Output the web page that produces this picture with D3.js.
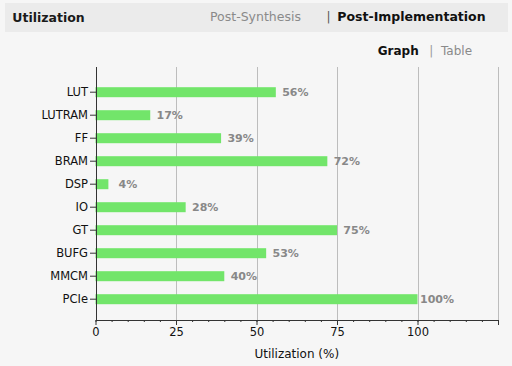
<!DOCTYPE html>
<html>
<head>
<meta charset="utf-8">
<script src="https://cdn.jsdelivr.net/npm/d3@7"></script>
<style>
html,body{margin:0;padding:0;background:#f6f6f6;}
svg{display:block;font-family:"DejaVu Sans",sans-serif;}
</style>
</head>
<body>
<svg id="chart" width="512" height="366"></svg>
<script>
const categories = ["LUT","LUTRAM","FF","BRAM","DSP","IO","GT","BUFG","MMCM","PCIe"];
const utilization = [56,17,39,72,4,28,75,53,40,100];
const xTickValues = [0,25,50,75,100,125];
const xTickLabels = ["0","25","50","75","100",""];
const title = "Utilization";
const tabs = ["Post-Synthesis","Post-Implementation"];
const views = ["Graph","Table"];
const xAxisTitle = "Utilization (%)";

const svg = d3.select("#chart");
svg.append("rect").attr("width",512).attr("height",366).attr("fill","#f6f6f6");

// header band
svg.append("rect").attr("x",5).attr("y",3).attr("width",503).attr("height",29).attr("fill","#ebebeb");
svg.append("text").attr("x",12.3).attr("y",22).attr("font-size","12.5px").attr("font-weight","bold").attr("fill","#1a1a1a").text(title);
svg.append("text").attr("x",210).attr("y",20.5).attr("font-size","12.5px").attr("fill","#8a8a8a").text(tabs[0]);
svg.append("text").attr("x",326.5).attr("y",20.5).attr("font-size","12px").attr("fill","#555").text("|");
svg.append("text").attr("x",337.3).attr("y",20.5).attr("font-size","12.5px").attr("font-weight","bold").attr("fill","#111").text(tabs[1]);

svg.append("text").attr("x",377.7).attr("y",55).attr("font-size","12px").attr("font-weight","bold").attr("fill","#111").text(views[0]);
svg.append("text").attr("x",429.3).attr("y",55).attr("font-size","12px").attr("fill","#999").text("|");
svg.append("text").attr("x",441).attr("y",55).attr("font-size","12px").attr("fill","#8a8a8a").text(views[1]);

// scales
const x = d3.scaleLinear().domain([0,125]).range([95.5,498]);
const y = d3.scaleBand().domain(categories).range([80.7,310.7]).paddingInner(0.565).paddingOuter(0.2826);
const plotTop = 67, plotBottom = 320;

// gridlines
svg.append("g").selectAll("line").data(xTickValues.filter(v=>v>0)).join("line")
  .attr("x1",d=>Math.round(x(d))+0.5).attr("x2",d=>Math.round(x(d))+0.5)
  .attr("y1",plotTop).attr("y2",plotBottom)
  .attr("stroke","#bdbdbd").attr("stroke-width",1);

// bars
svg.append("g").selectAll("rect").data(categories).join("rect")
  .attr("x",x(0)).attr("y",d=>y(d))
  .attr("width",(d,i)=>x(utilization[i])-x(0))
  .attr("height",y.bandwidth())
  .attr("fill","#72e56a");

// bar labels
svg.append("g").selectAll("text").data(categories).join("text")
  .attr("x",(d,i)=>x(utilization[i])+19.5)
  .attr("y",d=>y(d)+y.bandwidth()/2)
  .attr("dy","0.36em")
  .attr("text-anchor","middle")
  .attr("font-size","11px").attr("font-weight","bold").attr("fill","#888")
  .text((d,i)=>utilization[i]+"%");

// y axis
const yAxis = svg.append("g").attr("transform",`translate(${Math.round(x(0))},0)`)
  .call(d3.axisLeft(y).tickSize(6).tickPadding(2).tickSizeOuter(0));
yAxis.select(".domain").remove();
yAxis.selectAll("text").attr("font-size","11.5px").attr("font-family","DejaVu Sans").attr("fill","#111");
yAxis.selectAll("line").attr("stroke","#333");
svg.append("line").attr("x1",Math.round(x(0))+0.5).attr("x2",Math.round(x(0))+0.5)
  .attr("y1",plotTop).attr("y2",plotBottom+1).attr("stroke","#333");

// x axis
const xg = svg.append("g").attr("transform",`translate(0,${plotBottom})`);
xg.call(d3.axisBottom(x).tickValues(d3.range(0,126,5)).tickSize(2).tickFormat("").tickSizeOuter(0));
xg.select(".domain").remove();
const xMaj = svg.append("g").attr("transform",`translate(0,${plotBottom})`)
  .call(d3.axisBottom(x).tickValues(xTickValues).tickSize(5).tickPadding(3)
    .tickFormat((d,i)=>xTickLabels[i]).tickSizeOuter(0));
xMaj.select(".domain").attr("stroke","#333");
xMaj.selectAll("text").attr("font-size","11.5px").attr("font-family","DejaVu Sans").attr("fill","#111");
svg.selectAll(".tick line").attr("stroke","#333");

svg.append("text").attr("x",(x(0)+x(125))/2).attr("y",358).attr("text-anchor","middle")
  .attr("font-size","12px").attr("fill","#111").text(xAxisTitle);
</script>
</body>
</html>
